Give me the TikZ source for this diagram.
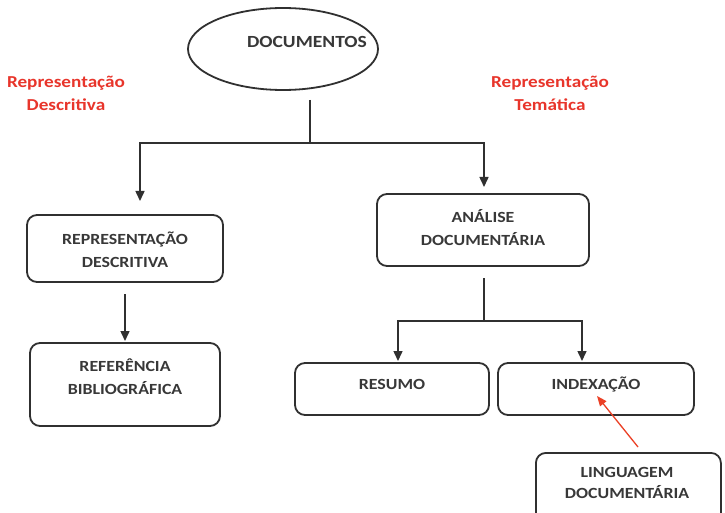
\documentclass[tikz,border=0pt]{standalone}
\usepackage{fontspec}
\setmainfont{Carlito}
\newfontfamily\widefont[FakeStretch=1.15]{Carlito}
\usetikzlibrary{shapes.geometric,arrows.meta}
\definecolor{ln}{HTML}{303030}
\definecolor{tx}{HTML}{383838}
\definecolor{rd}{HTML}{E8352B}
\tikzset{
  box/.style={draw=ln, line width=1.8pt, rounded corners=10pt, fill=white, inner sep=0pt},
  lbl/.style={font=\widefont\bfseries\fontsize{15.5}{23}\selectfont, text=tx, align=center},
  redlbl/.style={font=\widefont\bfseries\fontsize{16.7}{23}\selectfont, text=rd, align=center},
  conn/.style={draw=ln, line width=1.5pt},
  arr/.style={conn, -{Triangle[width=9pt,length=10pt]}},
}
\begin{document}
\begin{tikzpicture}[x=1pt,y=-1pt]
\clip (0,0) rectangle (725,513);
\fill[white] (0,0) rectangle (725,513);
% ellipse
\node[ellipse, draw=ln, line width=1.8pt, minimum width=190pt, minimum height=82pt, inner sep=0pt] (ell) at (283,49) {};
\node[lbl, font=\widefont\bfseries\fontsize{17}{20}\selectfont] (elltxt) at (307,42) {DOCUMENTOS};
% red labels
\node[redlbl] (rdesc) at (66,93) {Representação\\Descritiva};
\node[redlbl] (rtem) at (550,93) {Representação\\Temática};
% boxes
\node[box, minimum width=196pt, minimum height=67pt] (rdbox) at (125,248.5) {};
\node[lbl] (rdtxt) at (125,250) {REPRESENTAÇÃO\\DESCRITIVA};
\node[box, minimum width=190pt, minimum height=83pt] (rbbox) at (125,384.5) {};
\node[lbl] (rbtxt) at (125,377) {REFERÊNCIA\\BIBLIOGRÁFICA};
\node[box, minimum width=212pt, minimum height=72pt] (adbox) at (483,230) {};
\node[lbl] (adtxt) at (483,228) {ANÁLISE\\DOCUMENTÁRIA};
\node[box, minimum width=194pt, minimum height=52pt] (resbox) at (392,389) {};
\node[lbl] (restxt) at (392,384) {RESUMO};
\node[box, minimum width=196pt, minimum height=52pt] (idxbox) at (596,389) {};
\node[lbl] (idxtxt) at (596,384) {INDEXAÇÃO};
\node[box, minimum width=185pt, minimum height=90pt, anchor=north west] (ldbox) at (535,452) {};
\node[lbl, font=\widefont\bfseries\fontsize{15.5}{20.5}\selectfont] (ldtxt) at (627,483) {LINGUAGEM\\DOCUMENTÁRIA};
% connectors
\coordinate (s0) at (310,100);
\coordinate (j1) at (310,143);
\coordinate (lt) at (140,201);
\coordinate (rt) at (484,187);
\draw[conn] (s0) -- (j1);
\draw[arr] (j1) -| (lt);
\draw[arr] (j1) -| (rt);
\coordinate (a0) at (125,294);
\coordinate (a1) at (125,341);
\draw[arr] (a0) -- (a1);
\coordinate (b0) at (484,278);
\coordinate (b1) at (484,321);
\coordinate (bl) at (398,361);
\coordinate (br) at (582,361);
\draw[conn] (b0) -- (b1);
\draw[arr] (b1) -| (bl);
\draw[arr] (b1) -| (br);
\coordinate (r0) at (638,447);
\coordinate (r1) at (597,396);
\draw[draw=rd!85!orange, line width=1.3pt, -{Triangle[width=8pt,length=10pt]}] (r0) -- (r1);
\end{tikzpicture}
\end{document}
